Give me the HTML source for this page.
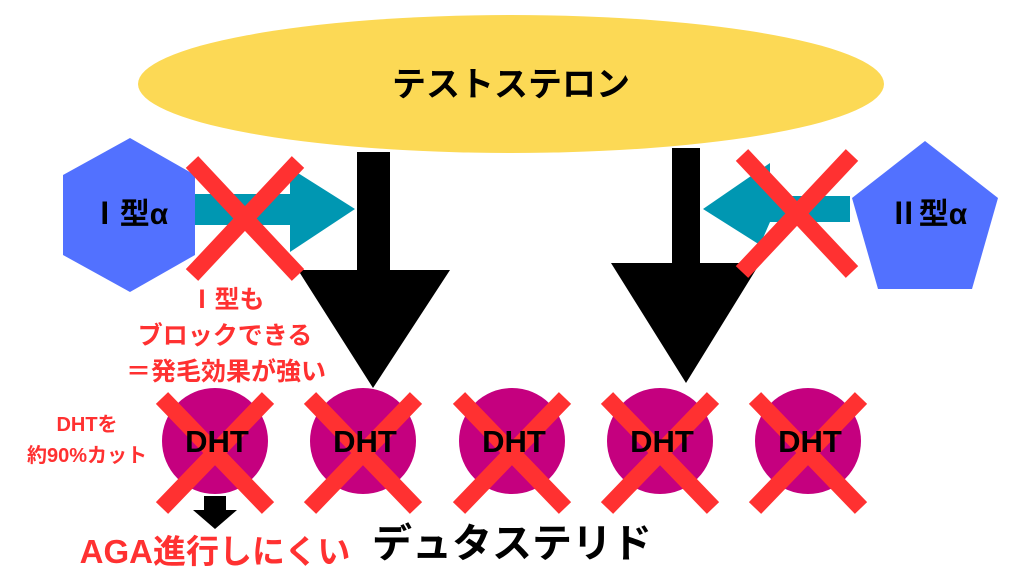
<!DOCTYPE html>
<html><head><meta charset="utf-8"><style>
html,body{margin:0;padding:0;background:#fff;}
svg{display:block;}
text{font-family:"Liberation Sans","Noto Sans CJK JP",sans-serif;font-weight:bold;}
</style></head><body>
<svg width="1024" height="576" viewBox="0 0 1024 576" xmlns="http://www.w3.org/2000/svg">
<rect width="1024" height="576" fill="#fff"/>
<ellipse cx="511" cy="84" rx="373" ry="69" fill="#fcd955"/>
<text x="511" y="96" font-size="34" text-anchor="middle" fill="#000">テストステロン</text>

<polygon points="130,138 195,175 195,255 130,292 63,255 63,175" fill="#5271ff"/>
<text x="129" y="224" font-size="30" text-anchor="middle" fill="#000">Ⅰ型α</text>
<polygon points="195,194 290,194 290,168 355,209 290,252 290,225 195,225" fill="#0097b2"/>

<polygon points="925,141 998,198 972,289 878,289 852,198" fill="#5271ff"/>
<text x="928" y="224" font-size="30" text-anchor="middle" fill="#000">Ⅱ型α</text>
<polygon points="850,196 770,196 770,163 703,209 760,245 770,222 850,222" fill="#0097b2"/>

<polygon points="357,152 390,152 390,270 450,270 373,388 298,270 357,270" fill="#000"/>
<polygon points="672,148 700,148 700,263 760,263 686,383 611,263 672,263" fill="#000"/>

<g fill="#c5007f">
<circle cx="215" cy="441" r="53"/><circle cx="363" cy="441" r="53"/><circle cx="512" cy="441" r="53"/><circle cx="660" cy="441" r="53"/><circle cx="808" cy="441" r="53"/>
</g>

<g stroke="#ff3131" stroke-width="17" stroke-linecap="butt">
<path d="M192,162 L298,275 M298,162 L192,275"/>
<path d="M742,155 L852,272 M852,155 L742,272"/>
<path d="M162,398 L268,508 M268,398 L162,508"/>
<path d="M310,398 L416,508 M416,398 L310,508"/>
<path d="M459,398 L565,508 M565,398 L459,508"/>
<path d="M607,398 L713,508 M713,398 L607,508"/>
<path d="M755,398 L861,508 M861,398 L755,508"/>
</g>

<g font-size="31" text-anchor="middle" fill="#000">
<text x="217" y="452">DHT</text><text x="365" y="452">DHT</text><text x="514" y="452">DHT</text><text x="662" y="452">DHT</text><text x="810" y="452">DHT</text>
</g>

<polygon points="204,496 226,496 226,510 237,510 215,529 193,510 204,510" fill="#000"/>

<g fill="#ff3131" text-anchor="middle">
<text x="227" y="308" font-size="25">Ⅰ型も</text>
<text x="225" y="344" font-size="25">ブロックできる</text>
<text x="226" y="380" font-size="25">＝発毛効果が強い</text>
<text x="87" y="431" font-size="20">DHTを</text>
<text x="87" y="462" font-size="20">約90%カット</text>
<text x="215" y="563" font-size="33">AGA進行しにくい</text>
</g>
<text x="512" y="557" font-size="40" text-anchor="middle" fill="#000">デュタステリド</text>
</svg>
</body></html>
